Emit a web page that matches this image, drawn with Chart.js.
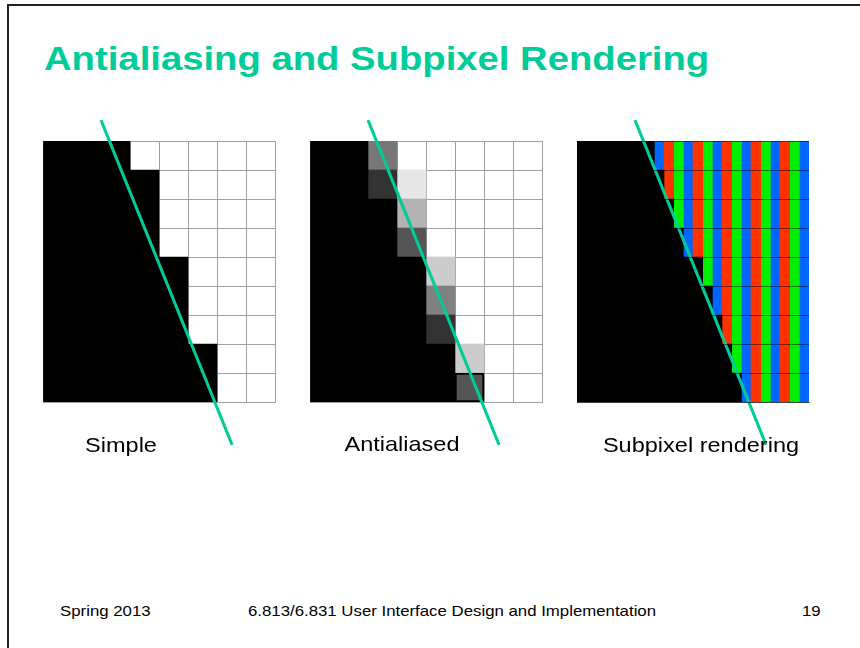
<!DOCTYPE html>
<html>
<head>
<meta charset="utf-8">
<script src="https://cdn.jsdelivr.net/npm/chart.js@4.4.1/dist/chart.umd.min.js"></script>
<style>
  body { margin:0; width:860px; height:648px; background:#fff; position:relative; overflow:hidden;
         font-family:"Liberation Sans", Arial, sans-serif; }
  .frame { position:absolute; left:7px; top:4px; width:900px; height:700px;
           border-top:2px solid #222; border-left:2px solid #222; }
  .txt { position:absolute; white-space:nowrap; line-height:1; }
  #title { left:44px; top:41px; font-size:34px; font-weight:bold; color:#00cc99;
           transform:scaleX(1.125); transform-origin:left center; }
  .lbl { font-size:21px; color:#000; top:434px; transform:translateX(-50%) scaleX(1.12); }
  .foot { font-size:15px; color:#000; top:603px; }
  .panel { position:absolute; top:110px; }
</style>
</head>
<body>
<div class="frame"></div>
<div id="title" class="txt">Antialiasing and Subpixel Rendering</div>

<div class="panel" style="left:33px"><canvas id="simple" width="252" height="350"></canvas></div>
<div class="panel" style="left:300px"><canvas id="anti" width="252" height="350"></canvas></div>
<div class="panel" style="left:567px"><canvas id="subpix" width="252" height="350"></canvas></div>

<div class="txt lbl" style="left:121px">Simple</div>
<div class="txt lbl" style="left:402px;top:433px">Antialiased</div>
<div class="txt lbl" style="left:701px">Subpixel rendering</div>

<div class="txt foot" style="left:60px;transform:scaleX(1.12);transform-origin:left center">Spring 2013</div>
<div class="txt foot" style="left:452px;transform:translateX(-50%) scaleX(1.12)">6.813/6.831 User Interface Design and Implementation</div>
<div class="txt foot" style="right:39px;transform:scaleX(1.12);transform-origin:right center">19</div>

<script>
// pixel rows of each grid (top to bottom)
var rows = [0, 1, 2, 3, 4, 5, 6, 7, 8];
var cols = 8;

// simple: number of black pixels in each row
var simpleBlack = [3, 4, 4, 4, 5, 5, 5, 6, 6];

// antialiased: black pixels per row, then the grey edge pixel(s)
var aaBlack = [2, 2, 3, 3, 4, 4, 4, 5, 5];
var aaEdgeGray = [119, 51, 179, 85, 204, 128, 51, 204, 85];
var aaEdge2Gray = [null, 230, null, null, null, null, null, null, null];
var aaOutlined = [false, false, false, false, false, false, false, false, true];

// subpixel: black subpixels per row (3 subpixels per pixel, R G B)
var subBlack = [8, 9, 10, 11, 13, 14, 15, 16, 17];
var subNames = ['R', 'G', 'B'];

// the ideal edge, in pixel units of the grid
var lineX = [2.0, 6.52];
var lineY = [-0.72, 10.48];

var teal = '#00cc99';
var subColors = ['#ff3300', '#00ee00', '#0066ff'];
var gridColor = '#a0a0a0';

function gray(v) {
    return 'rgb(' + v + ',' + v + ',' + v + ')';
}

function cells(label, data, color, more) {
    var ds = {
        label: label,
        data: data,
        backgroundColor: color,
        borderWidth: 0,
        grouped: false,
        barPercentage: 1,
        categoryPercentage: 1,
        order: 1
    };
    for (var k in more) ds[k] = more[k];
    return ds;
}

function edgeLine() {
    return {
        type: 'line',
        label: 'edge',
        indexAxis: 'x',
        data: lineX.map(function(x, i) { return {x: x, y: lineY[i]}; }),
        borderColor: teal,
        borderWidth: 3,
        pointRadius: 0,
        clip: false,
        order: 0
    };
}

function drawPanel(id, datasets, subpixel) {
    var ctx = document.getElementById(id);
    var rowLine = subpixel ? 'rgba(0,0,0,0.5)' : gridColor;
    return new Chart(ctx, {
        type: 'bar',
        data: { datasets: datasets.concat([edgeLine()]) },
        options: {
            responsive: false,
            animation: false,
            indexAxis: 'y',
            layout: { padding: { left: 10, right: 10, top: 31, bottom: 58 } },
            plugins: { legend: { display: false }, tooltip: { enabled: false } },
            scales: {
                x: {
                    type: 'linear', min: 0, max: cols, offset: false,
                    ticks: { display: false, stepSize: 1 },
                    grid: { display: !subpixel, color: gridColor, drawTicks: false, offset: false },
                    border: { color: subpixel ? rowLine : gridColor, z: subpixel ? 1 : 0 },
                    afterFit: function(s) { s.height = 0; }
                },
                y: {
                    type: 'linear', reverse: true, min: 0, max: rows.length, offset: false,
                    ticks: { display: false, stepSize: 1 },
                    grid: { color: rowLine, drawTicks: false, offset: false, z: subpixel ? 1 : -1 },
                    border: { color: rowLine, z: subpixel ? 1 : 0 },
                    afterFit: function(s) { s.width = 0; }
                }
            }
        }
    });
}

// Simple
drawPanel('simple', [
    cells('black', rows.map(function(r) { return {y: r + 0.5, x: [0, simpleBlack[r]]}; }), '#000')
], false);

// Antialiased
var edge2Rows = rows.filter(function(r) { return aaEdge2Gray[r] !== null; });
drawPanel('anti', [
    cells('black', rows.map(function(r) { return {y: r + 0.5, x: [0, aaBlack[r]]}; }), '#000'),
    cells('edge', rows.map(function(r) { return {y: r + 0.5, x: [aaBlack[r], aaBlack[r] + 1]}; }),
        aaEdgeGray.map(gray), {
            borderColor: '#000',
            borderWidth: aaOutlined.map(function(o) { return o ? 2 : 0; }),
            borderSkipped: false
        }),
    cells('edge2', edge2Rows.map(function(r) { return {y: r + 0.5, x: [aaBlack[r] + 1, aaBlack[r] + 2]}; }),
        edge2Rows.map(function(r) { return gray(aaEdge2Gray[r]); }))
], false);

// Subpixel rendering
var subSets = [cells('black', rows.map(function(r) { return {y: r + 0.5, x: [0, subBlack[r] / 3]}; }), '#000')];
subNames.forEach(function(name, c) {
    var data = [];
    rows.forEach(function(r) {
        for (var k = subBlack[r]; k < cols * 3; k++) {
            if (k % 3 === c) data.push({y: r + 0.5, x: [k / 3, (k + 1) / 3]});
        }
    });
    subSets.push(cells(name, data, subColors[c]));
});
drawPanel('subpix', subSets, true);
</script>
</body>
</html>
